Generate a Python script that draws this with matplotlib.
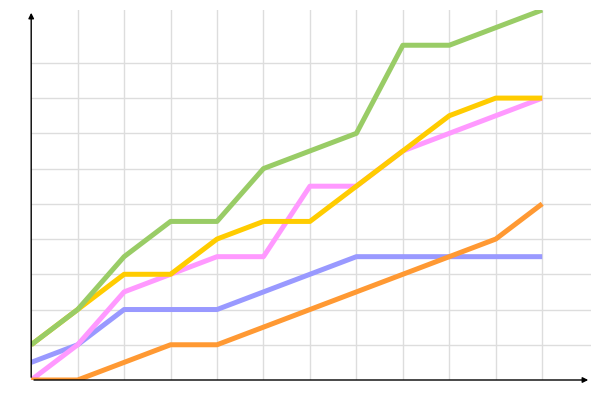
import matplotlib
matplotlib.use('Agg')
import matplotlib.pyplot as plt

x = list(range(12))

green = [1, 2, 3.5, 4.5, 4.5, 6, 6.5, 7, 9.5, 9.5, 10, 10.5]
yellow = [1, 2, 3, 3, 4, 4.5, 4.5, 5.5, 6.5, 7.5, 8, 8]
pink = [0, 1, 2.5, 3, 3.5, 3.5, 5.5, 5.5, 6.5, 7, 7.5, 8]
blue = [0.5, 1, 2, 2, 2, 2.5, 3, 3.5, 3.5, 3.5, 3.5, 3.5]
orange = [0, 0, 0.5, 1, 1, 1.5, 2, 2.5, 3, 3.5, 4, 5]

fig = plt.figure(figsize=(6, 4), dpi=100)
ax = fig.add_axes([0.052, 0.05, 0.933, 0.925])

# ---- grid ----
for gx in range(1, 12):
    ax.axvline(gx, color='#dddddd', lw=1, zorder=0)
for gy in range(1, 10):
    ax.axhline(gy, color='#dddddd', lw=1, zorder=0)

# ---- series ----
lw = 3.6
ax.plot(x, blue, color='#9999ff', lw=lw, solid_capstyle='butt', zorder=2)
ax.plot(x, pink, color='#ff99ff', lw=lw, solid_capstyle='butt', zorder=3)
ax.plot(x, orange, color='#ff9933', lw=lw, solid_capstyle='butt', zorder=4)
ax.plot(x, yellow, color='#ffcc00', lw=lw, solid_capstyle='butt', zorder=5)
ax.plot(x, green, color='#99cc66', lw=lw, solid_capstyle='butt', zorder=6)

ax.set_xlim(0, 12.05)
ax.set_ylim(0, 10.5)
ax.set_xticks([])
ax.set_yticks([])
for s in ax.spines.values():
    s.set_visible(False)

# ---- axes with arrows ----
ax.annotate('', xy=(1, 0), xytext=(0, 0), xycoords='axes fraction',
            arrowprops=dict(arrowstyle='-|>', color='black', lw=1,
                            mutation_scale=8), zorder=10)
ax.annotate('', xy=(0, 1), xytext=(0, 0), xycoords='axes fraction',
            arrowprops=dict(arrowstyle='-|>', color='black', lw=1,
                            mutation_scale=8), zorder=10)

fig.savefig('out.png', dpi=100)
